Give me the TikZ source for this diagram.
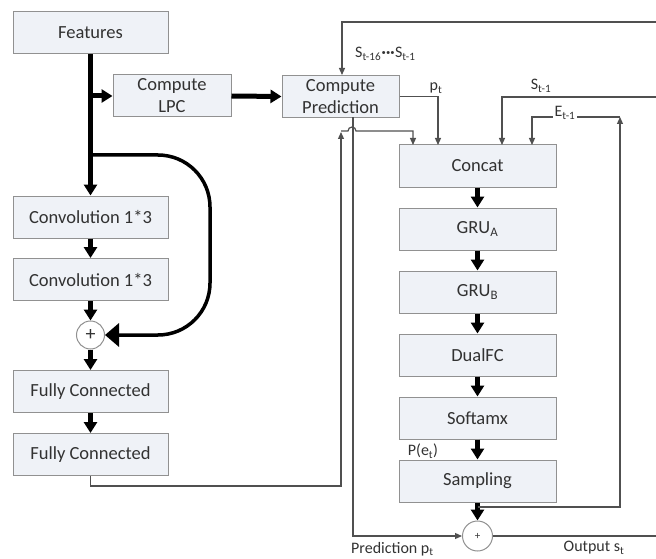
\documentclass[tikz,border=0pt]{standalone}
\usepackage{fontspec}
\setmainfont{Carlito}
\usetikzlibrary{arrows.meta}

\definecolor{boxfill}{RGB}{239,242,247}
\definecolor{boxline}{RGB}{145,145,145}
\definecolor{txt}{RGB}{50,50,50}
\definecolor{wire}{RGB}{80,80,80}

\begin{document}
\begin{tikzpicture}[x=1pt,y=-1pt,
  blk/.style={draw=boxline, line width=1pt, fill=boxfill, text=txt,
    font=\fontsize{18.5}{22}\selectfont, minimum height=42pt,
    align=center, inner sep=0pt},
  leftblk/.style={blk, minimum width=155pt},
  rightblk/.style={blk, minimum width=157pt},
  sumnode/.style={circle, draw=boxline, line width=1pt, fill=white, text=txt, inner sep=0pt},
  lbl/.style={text=txt, font=\fontsize{16}{20}\selectfont, inner sep=0pt},
  fat/.style={line width=5pt, -{Triangle[length=11pt,width=13pt]}},
  skip/.style={line width=3.5pt, -{Triangle[length=14pt,width=23pt]}},
  wire/.style={draw=wire, line width=1.2pt},
  wirearrow/.style={wire, -{Triangle[length=7pt,width=6pt]}, color=wire},
]
\useasboundingbox (0,0) rectangle (656,559);

% ---------- left column: feature network ----------
\node[leftblk] (feat) at (90.5,33) {Features};
\node[blk, minimum width=118pt] (lpc) at (172,96) {Compute\\LPC};
\node[leftblk] (conv1) at (90.5,217) {Convolution 1*3};
\node[leftblk] (conv2) at (90.5,279.5) {Convolution 1*3};
\node[sumnode, minimum size=28pt, font=\fontsize{20}{20}\selectfont] (lplus) at (90.5,335) {+};
\node[leftblk] (fc1) at (90.5,391.5) {Fully Connected};
\node[leftblk] (fc2) at (90.5,454.5) {Fully Connected};

% ---------- prediction block ----------
\node[blk, minimum width=117pt] (pred) at (340.5,96.5) {Compute\\Prediction};

% ---------- right column: sample-rate network ----------
\node[rightblk] (concat) at (477.5,166) {Concat};
\node[rightblk] (grua) at (477.5,229) {GRU\textsubscript{A}};
\node[rightblk] (grub) at (477.5,292) {GRU\textsubscript{B}};
\node[rightblk] (dualfc) at (477.5,355) {DualFC};
\node[rightblk] (softmax) at (477.5,418) {Softamx};
\node[rightblk] (samp) at (477.5,481) {Sampling};
\node[sumnode, minimum size=30pt, font=\fontsize{11}{11}\selectfont] (rplus) at (477.5,536) {+};

% ---------- helper coordinates ----------
\coordinate (tapl) at (90.5,96);
\coordinate (taps) at (90.5,155);
\coordinate (skipc1) at (210,155);
\coordinate (skipc2) at (210,335);
\coordinate (fcdown) at (90.5,486);
\coordinate (fcturn) at (341,486);
\coordinate (fcup) at (341,132);
\coordinate (hopa) at (348,131);
\coordinate (condturn) at (413,131);
\coordinate (condin) at (413,145);
\coordinate (pout) at (353,117.5);
\coordinate (pin) at (438,145);
\coordinate (edgetop) at (657,22);
\coordinate (predtop) at (342,22);
\coordinate (edges) at (657,97);
\coordinate (sin) at (502,145);
\coordinate (ein) at (532,145);
\coordinate (eup) at (620,117);
\coordinate (stap) at (477.5,507);
\coordinate (sright) at (620,507);
\coordinate (edgeout) at (657,536);

% ---------- thick data path, left ----------
\draw[fat] (feat.south) -- (conv1.north);
\draw[fat] (tapl) -- (lpc.west);
\draw[fat] (lpc.east) -- (pred.west);
\draw[fat] (conv1.south) -- (conv2.north);
\draw[fat] (conv2.south) -- (lplus.north);
\draw[fat] (lplus.south) -- (fc1.north);
\draw[fat] (fc1.south) -- (fc2.north);
\draw[skip, rounded corners=52pt] (taps) -- (skipc1) -- (skipc2) -- (lplus.east);

% ---------- thick data path, right ----------
\draw[fat] (concat.south) -- (grua.north);
\draw[fat] (grua.south) -- (grub.north);
\draw[fat] (grub.south) -- (dualfc.north);
\draw[fat] (dualfc.south) -- (softmax.north);
\draw[fat] (softmax.south) -- (samp.north);
\draw[fat] (samp.south) -- (rplus.north);

% ---------- thin signal wires ----------
% conditioning vector into Concat, hopping over the prediction wire
\draw[wirearrow] (fc2.south) -- (fcdown) -- (fcturn) -- (fcup);
\draw[wirearrow] (fcup |- hopa) -- (hopa) arc[start angle=180, end angle=0, radius=4pt]
  -- (condturn) -- (condin);
% prediction p_t
\draw[wirearrow] (pred.east) -| (pin);
\draw[wirearrow] (pout) |- (rplus.west);
% past samples
\draw[wirearrow] (edgetop) -- (predtop) -- (pred.north -| predtop);
\draw[wirearrow] (edges) -| (sin);
% excitation feedback
\draw[wirearrow] (stap) -- (sright) -- (eup);
\draw[wirearrow] (eup) -| (ein);
% output
\draw[wire] (rplus.east) -- (edgeout);

% ---------- labels ----------
\node[lbl, anchor=west] (lblhist) at (355,54) {S\textsubscript{t-16}\kern0.5pt\textbf{···}\kern0.5pt S\textsubscript{t-1}};
\node[lbl] (lblp) at (436,88) {p\textsubscript{t}};
\node[lbl] (lbls) at (541,86) {S\textsubscript{t-1}};
\node[lbl, fill=white, inner sep=1.5pt] (lble) at (565,113) {E\textsubscript{t-1}};
\node[lbl] (lblpe) at (423,451) {P(e\textsubscript{t})};
\node[lbl, anchor=west] (lblpred) at (351,549) {Prediction p\textsubscript{t}};
\node[lbl] (lblout) at (594,548) {Output s\textsubscript{t}};
\end{tikzpicture}
\end{document}
